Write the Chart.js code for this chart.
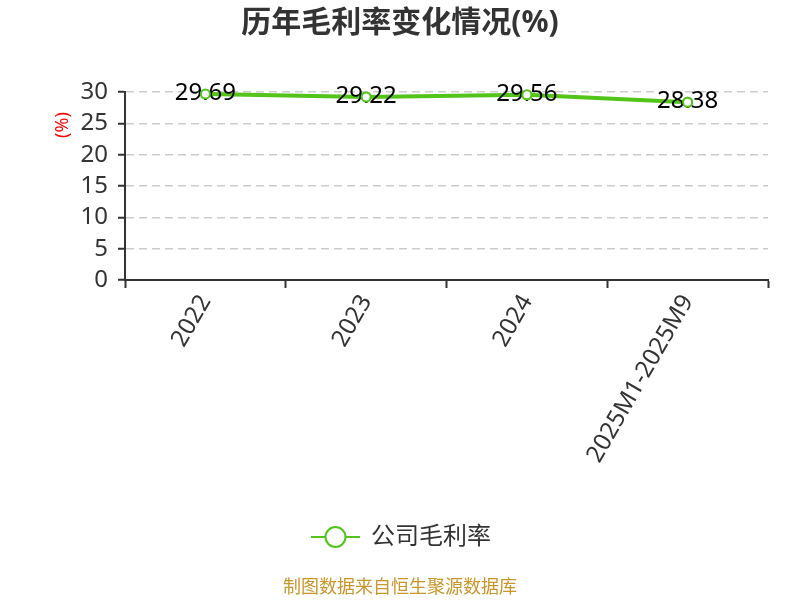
<!DOCTYPE html>
<html>
<head>
<meta charset="utf-8">
<script src="https://cdn.jsdelivr.net/npm/chart.js@4"></script>
<style>
	html, body { margin: 0; padding: 0; background: #fff; }
	#wrap { width: 800px; height: 600px; }
</style>
</head>
<body>
<div id="wrap"><canvas id="chartMargin"></canvas></div>
<script>
var categories = ["2022", "2023", "2024", "2025M1-2025M9"];
var marginValues = [29.69, 29.22, 29.56, 28.38];
var yTicks = [0, 5, 10, 15, 20, 25, 30];
var seriesName = "公司毛利率";
var titleText = "历年毛利率变化情况(%)";
var footerText = "制图数据来自恒生聚源数据库";

var FONT = "'Noto Sans', 'Noto Sans CJK SC', sans-serif";
var GREEN = "#52c41a";

// value labels, title, legend and footer drawn on top
var decorPlugin = {
	id: "decor",
	afterDatasetsDraw: function(chart) {
		var ctx = chart.ctx;
		var meta = chart.getDatasetMeta(0);
		ctx.save();
		ctx.font = "24px " + FONT;
		ctx.fillStyle = "#000";
		ctx.textAlign = "center";
		ctx.textBaseline = "middle";
		meta.data.forEach(function(pt, i) {
			ctx.fillText(marginValues[i].toFixed(2), pt.x, pt.y - 1);
		});
		ctx.restore();
		// markers sit above the labels, as in the original
		meta.data.forEach(function(pt) { pt.draw(ctx, chart.chartArea); });
	},
	afterDraw: function(chart) {
		var ctx = chart.ctx;
		ctx.save();

		ctx.font = "bold 30px " + FONT;
		ctx.fillStyle = "#333";
		ctx.textAlign = "center";
		ctx.textBaseline = "middle";
		ctx.fillText(titleText, 400, 23);

		// y axis unit
		ctx.save();
		ctx.translate(63, 125);
		ctx.rotate(-Math.PI / 2);
		ctx.font = "18px " + FONT;
		ctx.fillStyle = "#ff0000";
		ctx.fillText("(%)", 0, 0);
		ctx.restore();

		// legend
		ctx.strokeStyle = GREEN;
		ctx.lineWidth = 2;
		ctx.beginPath();
		ctx.moveTo(311, 537);
		ctx.lineTo(360, 537);
		ctx.stroke();
		ctx.beginPath();
		ctx.arc(335.5, 537, 10, 0, Math.PI * 2);
		ctx.fillStyle = "#fff";
		ctx.fill();
		ctx.stroke();
		ctx.font = "24px " + FONT;
		ctx.fillStyle = "#333";
		ctx.textAlign = "left";
		ctx.fillText(seriesName, 371, 537);

		ctx.font = "18px " + FONT;
		ctx.fillStyle = "#c8962b";
		ctx.textAlign = "center";
		ctx.fillText(footerText, 400, 588);

		ctx.restore();
	}
};

var marginChart = new Chart(document.getElementById("chartMargin").getContext("2d"), {
	type: "line",
	data: {
		labels: categories,
		datasets: [{
			label: seriesName,
			data: marginValues,
			borderColor: GREEN,
			borderWidth: 4,
			pointRadius: 4.5,
			pointBorderWidth: 2,
			pointBackgroundColor: "#fff",
			pointBorderColor: GREEN,
			tension: 0
		}]
	},
	plugins: [decorPlugin],
	options: {
		responsive: true,
		maintainAspectRatio: false,
		animation: false,
		layout: { padding: { top: 92, left: 0, right: 32, bottom: 130 } },
		plugins: {
			legend: { display: false },
			title: { display: false },
			tooltip: { enabled: false }
		},
		scales: {
			x: {
				offset: true,
				grid: {
					offset: true,
					drawOnChartArea: false,
					drawTicks: true,
					tickLength: 8,
					tickColor: "#333",
					tickWidth: 2
				},
				border: { color: "#333", width: 2 },
				ticks: {
					color: "#333",
					font: { family: FONT, size: 24 },
					autoSkip: false,
					maxRotation: 60,
					minRotation: 60,
					padding: 2
				},
				afterFit: function(scale) { scale.height = 190; }
			},
			y: {
				min: 0,
				max: 30,
				afterBuildTicks: function(scale) {
					scale.ticks = yTicks.map(function(v) { return { value: v }; });
				},
				grid: {
					color: "#cccccc",
					lineWidth: 1.5,
					tickLength: 7,
					tickColor: "#333",
					tickWidth: 2,
					tickBorderDash: []
				},
				border: { color: "#333", width: 2, dash: [8, 5] },
				ticks: {
					color: "#333",
					font: { family: FONT, size: 24 },
					autoSkip: false,
					padding: 10
				},
				afterFit: function(scale) { scale.width = 125; }
			}
		}
	}
});
</script>
</body>
</html>
